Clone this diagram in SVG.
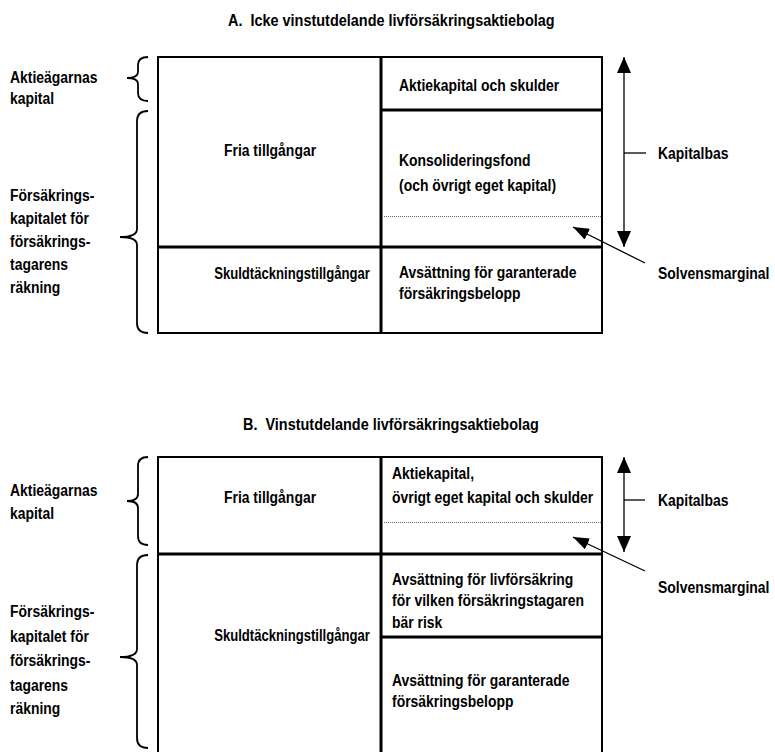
<svg xmlns="http://www.w3.org/2000/svg" width="775" height="752" viewBox="0 0 775 752">
<style>
.t{font-family:"Liberation Sans",Arial,sans-serif;font-weight:bold;font-size:17px;fill:#000}
.m{text-anchor:middle}
.box{fill:none;stroke:#000;stroke-width:2}
.div{stroke:#000;stroke-width:3}
.dot{stroke:#666;stroke-width:1;stroke-dasharray:1 1}
.brace{fill:none;stroke:#000;stroke-width:1.8}
.conn{stroke:#000;stroke-width:1.3;fill:none}
</style>
<defs>
<marker id="big" viewBox="0 0 16 14" refX="16" refY="7" markerWidth="16" markerHeight="14" markerUnits="userSpaceOnUse" orient="auto-start-reverse"><path d="M0,0L16,7L0,14z" fill="#000"/></marker>
<marker id="small" viewBox="0 0 16 12" refX="16" refY="6" markerWidth="16" markerHeight="12" markerUnits="userSpaceOnUse" orient="auto"><path d="M0,0L16,6L0,12z" fill="#000"/></marker>
</defs>

<g id="titleA"><text class="t" transform="translate(228,26) scale(0.85,1)">A.&#160; Icke vinstutdelande livförsäkringsaktiebolag</text></g>
<g id="boxA">
<rect class="box" x="158" y="57" width="444" height="276"/>
<line class="div" x1="381" y1="57" x2="381" y2="333"/>
<line class="div" x1="381" y1="110" x2="602" y2="110"/>
<line class="div" x1="158" y1="247" x2="602" y2="247"/>
<line class="dot" x1="382" y1="216.5" x2="601" y2="216.5"/>
</g>
<g id="A-fria"><text class="t m" transform="translate(270,156) scale(0.82,1)">Fria tillgångar</text></g>
<g id="A-aktiekapital"><text class="t" transform="translate(399,91) scale(0.82,1)">Aktiekapital och skulder</text></g>
<g id="A-konsolidering"><text class="t" transform="translate(399,166) scale(0.82,1)">Konsolideringsfond</text><text class="t" transform="translate(399,191) scale(0.82,1)">(och övrigt eget kapital)</text></g>
<g id="A-skuld"><text class="t m" transform="translate(292,279) scale(0.77,1)">Skuldtäckningstillgångar</text></g>
<g id="A-avsattning"><text class="t" transform="translate(399,278) scale(0.82,1)">Avsättning för garanterade</text><text class="t" transform="translate(399,299) scale(0.82,1)">försäkringsbelopp</text></g>
<g id="A-aktieagarnas"><text class="t" transform="translate(10,83) scale(0.82,1)">Aktieägarnas</text><text class="t" transform="translate(10,104) scale(0.82,1)">kapital</text></g>
<g id="A-forsakrings"><text class="t" transform="translate(10,201) scale(0.82,1)">Försäkrings-</text><text class="t" transform="translate(10,224) scale(0.82,1)">kapitalet för</text><text class="t" transform="translate(10,247) scale(0.82,1)">försäkrings-</text><text class="t" transform="translate(10,270) scale(0.82,1)">tagarens</text><text class="t" transform="translate(10,293) scale(0.82,1)">räkning</text></g>
<g id="A-kapitalbas"><text class="t" transform="translate(658,159) scale(0.82,1)">Kapitalbas</text></g>
<g id="A-solvens"><text class="t" transform="translate(658,279) scale(0.82,1)">Solvensmarginal</text></g>

<g id="titleB"><text class="t" transform="translate(243,430) scale(0.85,1)">B.&#160; Vinstutdelande livförsäkringsaktiebolag</text></g>
<g id="boxB">
<rect class="box" x="158" y="457" width="444" height="297"/>
<line class="div" x1="381" y1="457" x2="381" y2="754"/>
<line class="div" x1="158" y1="554" x2="602" y2="554"/>
<line class="div" x1="381" y1="637" x2="602" y2="637"/>
<line class="dot" x1="382" y1="522.5" x2="601" y2="522.5"/>
</g>
<g id="B-fria"><text class="t m" transform="translate(270,503) scale(0.82,1)">Fria tillgångar</text></g>
<g id="B-aktiekapital"><text class="t" transform="translate(392,479) scale(0.82,1)">Aktiekapital,</text><text class="t" transform="translate(392,503) scale(0.82,1)">övrigt eget kapital och skulder</text></g>
<g id="B-livforsakring"><text class="t" transform="translate(392,585) scale(0.82,1)">Avsättning för livförsäkring</text><text class="t" transform="translate(392,606) scale(0.82,1)">för vilken försäkringstagaren</text><text class="t" transform="translate(392,628) scale(0.82,1)">bär risk</text></g>
<g id="B-skuld"><text class="t m" transform="translate(292,641) scale(0.77,1)">Skuldtäckningstillgångar</text></g>
<g id="B-avsattning"><text class="t" transform="translate(392,686) scale(0.82,1)">Avsättning för garanterade</text><text class="t" transform="translate(392,707) scale(0.82,1)">försäkringsbelopp</text></g>
<g id="B-aktieagarnas"><text class="t" transform="translate(10,496) scale(0.82,1)">Aktieägarnas</text><text class="t" transform="translate(10,519) scale(0.82,1)">kapital</text></g>
<g id="B-forsakrings"><text class="t" transform="translate(10,617) scale(0.82,1)">Försäkrings-</text><text class="t" transform="translate(10,642) scale(0.82,1)">kapitalet för</text><text class="t" transform="translate(10,666) scale(0.82,1)">försäkrings-</text><text class="t" transform="translate(10,691) scale(0.82,1)">tagarens</text><text class="t" transform="translate(10,714) scale(0.82,1)">räkning</text></g>
<g id="B-kapitalbas"><text class="t" transform="translate(658,506) scale(0.82,1)">Kapitalbas</text></g>
<g id="B-solvens"><text class="t" transform="translate(658,593) scale(0.82,1)">Solvensmarginal</text></g>

<g id="connectors">
<path class="brace" d="M148,57 Q138,57 138,65 L138,72 Q138,78 127,78 Q138,78 138,84 L138,93 Q138,101 148,101"/>
<path class="brace" d="M148,111 Q137,111 137,121 L137,229 Q137,237 120,237 Q137,237 137,245 L137,323 Q137,333 148,333"/>
<path class="brace" d="M148,457 Q138,457 138,466 L138,494 Q138,501 127,501 Q138,501 138,508 L138,536 Q138,545 148,545"/>
<path class="brace" d="M148,555 Q137,555 137,565 L137,649 Q137,657 120,657 Q137,657 137,665 L137,738 Q137,748 148,748"/>
<line class="conn" x1="624" y1="57" x2="624" y2="247" marker-start="url(#big)" marker-end="url(#big)"/>
<line class="conn" x1="624" y1="153" x2="646" y2="153"/>
<line class="conn" x1="645" y1="263" x2="573" y2="227" marker-end="url(#small)"/>
<line class="conn" x1="624" y1="457" x2="624" y2="552" marker-start="url(#big)" marker-end="url(#big)"/>
<line class="conn" x1="624" y1="500" x2="645" y2="500"/>
<line class="conn" x1="645" y1="571" x2="573" y2="537" marker-end="url(#small)"/>
</g>
</svg>
